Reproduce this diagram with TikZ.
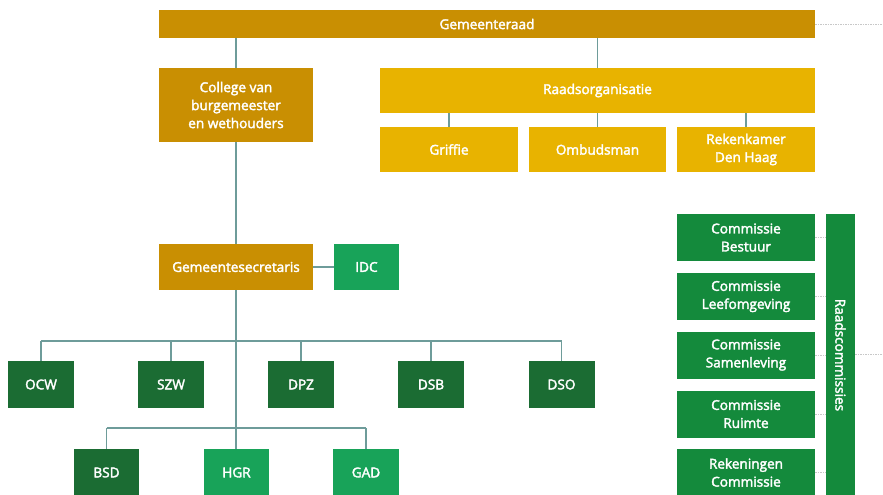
\documentclass[tikz,border=0pt]{standalone}
\usepackage{fontspec}
\setmainfont{Open Sans}
\newfontfamily\boxfont{Open Sans}[FakeBold=2.5]
\definecolor{dgold}{HTML}{C98F02}
\definecolor{ygold}{HTML}{E8B300}
\definecolor{dgreen}{HTML}{1B6C33}
\definecolor{mgreen}{HTML}{148A3C}
\definecolor{lgreen}{HTML}{18A359}
\definecolor{conn}{HTML}{6E9C9A}
\definecolor{dots}{HTML}{C8C8C8}
\tikzset{
  box/.style={rectangle, inner sep=0pt, text=white, align=center, font=\boxfont\fontsize{13.6}{18}\selectfont},
  lnk/.style={draw=conn, line width=1.1pt},
  dotl/.style={draw=dots, line width=0.8pt, dash pattern=on 1.5pt off 1pt},
}
\begin{document}
\begin{tikzpicture}[x=1pt,y=-1pt]
\useasboundingbox (0,0) rectangle (883,495);
% top
\node[box, fill=dgold, minimum width=656, minimum height=28] (gr) at (487,24) {Gemeenteraad};
\node[box, fill=dgold, minimum width=154, minimum height=74] (col) at (236,105) {College van\\burgemeester\\en wethouders};
\node[box, fill=ygold, minimum width=435, minimum height=45] (ro) at (597.5,90.5) {Raadsorganisatie};
\node[box, fill=ygold, minimum width=138, minimum height=45] (gri) at (449,149.5) {Griffie};
\node[box, fill=ygold, minimum width=137, minimum height=45] (omb) at (597.5,149.5) {Ombudsman};
\node[box, fill=ygold, minimum width=138, minimum height=45] (rek) at (746,149.5) {Rekenkamer\\Den Haag};
% middle
\node[box, fill=dgold, minimum width=154, minimum height=46] (gs) at (236,267) {Gemeentesecretaris};
\node[box, fill=lgreen, minimum width=65, minimum height=46] (idc) at (366.5,267) {IDC};
% departments
\node[box, fill=dgreen, minimum width=66, minimum height=47] (ocw) at (41,384.5) {OCW};
\node[box, fill=dgreen, minimum width=66, minimum height=47] (szw) at (171,384.5) {SZW};
\node[box, fill=dgreen, minimum width=66, minimum height=47] (dpz) at (301,384.5) {DPZ};
\node[box, fill=dgreen, minimum width=66, minimum height=47] (dsb) at (431,384.5) {DSB};
\node[box, fill=dgreen, minimum width=66, minimum height=47] (dso) at (561.5,384.5) {DSO};
\node[box, fill=dgreen, minimum width=65, minimum height=47] (bsd) at (106.5,472.5) {BSD};
\node[box, fill=lgreen, minimum width=65, minimum height=47] (hgr) at (236.5,472.5) {HGR};
\node[box, fill=lgreen, minimum width=66, minimum height=47] (gad) at (366,472.5) {GAD};
% commissies
\node[box, fill=mgreen, minimum width=138, minimum height=47] (c1) at (746,237.5) {Commissie\\Bestuur};
\node[box, fill=mgreen, minimum width=138, minimum height=47] (c2) at (746,296.5) {Commissie\\Leefomgeving};
\node[box, fill=mgreen, minimum width=138, minimum height=47] (c3) at (746,355) {Commissie\\Samenleving};
\node[box, fill=mgreen, minimum width=138, minimum height=47] (c4) at (746,414) {Commissie\\Ruimte};
\node[box, fill=mgreen, minimum width=138, minimum height=47] (c5) at (746,472.5) {Rekeningen\\Commissie};
\node[box, fill=mgreen, minimum width=282, minimum height=29, rotate=-90] (rc) at (840.5,355) {Raadscommissies};
% connectors
\coordinate (bus1) at (236,341);
\coordinate (bus2) at (236,428);
\coordinate (grR) at (883,24);
\coordinate (rcR) at (883,354);
\draw[lnk] (gr.south -| col.north) -- (col.north);
\draw[lnk] (gr.south -| ro.north) -- (ro.north);
\draw[lnk] (ro.south -| gri.north) -- (gri.north);
\draw[lnk] (ro.south -| omb.north) -- (omb.north);
\draw[lnk] (ro.south -| rek.north) -- (rek.north);
\draw[lnk] (col.south) -- (gs.north);
\draw[lnk] (gs.east) -- (idc.west);
\draw[lnk] (gs.south) -- (hgr.north -| gs.south);
\draw[lnk] (bus1 -| ocw.north) -- (bus1 -| dso.north);
\foreach \n in {ocw,szw,dpz,dsb,dso} \draw[lnk] (bus1 -| \n.north) -- (\n.north);
\draw[lnk] (bus2 -| bsd.north) -- (bus2 -| gad.north);
\foreach \n in {bsd,gad} \draw[lnk] (bus2 -| \n.north) -- (\n.north);
\draw[dotl] (gr.east) -- (grR);
\foreach \n in {c1,c2,c3,c4,c5} \draw[dotl] (\n.east) -- (\n.east -| rc.south);
\draw[dotl] (rcR -| rc.north) -- (rcR);
\end{tikzpicture}
\end{document}
